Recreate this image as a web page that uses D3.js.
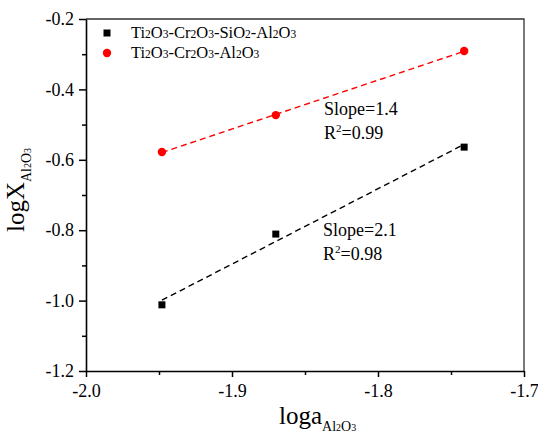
<!DOCTYPE html>
<html>
<head>
<meta charset="utf-8">
<script src="https://cdn.jsdelivr.net/npm/d3@7"></script>
<style>
  body { margin: 0; background: #fff; }
  svg { display: block; }
  svg text { font-family: "Liberation Serif", "Times New Roman", serif; }
</style>
</head>
<body>
<div id="container"></div>
<script>
// data
var seriesNames = ["Ti2O3-Cr2O3-SiO2-Al2O3", "Ti2O3-Cr2O3-Al2O3"];
var xSiO2 = [-1.948, -1.870, -1.741];
var ySiO2 = [-1.012, -0.811, -0.564];
var xAl = [-1.948, -1.870, -1.741];
var yAl = [-0.578, -0.473, -0.291];
var xTicks = [-2.0, -1.9, -1.8, -1.7];
var yTicks = [-1.2, -1.0, -0.8, -0.6, -0.4, -0.2];
var fitText = [["Slope=2.1", "0.98"], ["Slope=1.4", "0.99"]];

var w = 538, h = 435;
var margin = {top: 19, right: 14, bottom: 64, left: 86};
var iw = w - margin.left - margin.right,
    ih = h - margin.top - margin.bottom;

var svg = d3.select("div#container")
  .append("svg")
  .attr("width", w)
  .attr("height", h);

var x = d3.scaleLinear().domain([-2.0, -1.7]).range([0, iw]);
var y = d3.scaleLinear().domain([-1.2, -0.2]).range([ih, 0]);

var g = svg.append("g").attr("transform", "translate(" + margin.left + "," + margin.top + ")");

// frame (top / right)
g.append("path")
  .attr("d", "M0,0H" + iw + "V" + ih)
  .attr("fill", "none")
  .attr("stroke", "#333")
  .attr("stroke-width", 1.3);

// minor ticks
g.append("g")
  .attr("transform", "translate(0," + ih + ")")
  .call(d3.axisBottom(x).tickValues([-1.95, -1.85, -1.75]).tickSize(4).tickSizeOuter(0).tickFormat(""))
  .call(function(s) { s.select(".domain").remove(); s.selectAll("line").attr("stroke-width", 1.5); });
g.append("g")
  .call(d3.axisLeft(y).tickValues([-1.1, -0.9, -0.7, -0.5, -0.3]).tickSize(4).tickSizeOuter(0).tickFormat(""))
  .call(function(s) { s.select(".domain").remove(); s.selectAll("line").attr("stroke-width", 1.5); });

// major axes
var xAxis = g.append("g")
  .attr("transform", "translate(0," + ih + ")")
  .call(d3.axisBottom(x).tickValues(xTicks).tickSize(6).tickSizeOuter(0).tickPadding(7));
var yAxis = g.append("g")
  .call(d3.axisLeft(y).tickValues(yTicks).tickSize(7).tickSizeOuter(0).tickPadding(5));

[xAxis, yAxis].forEach(function(a) {
  a.attr("font-family", null).attr("font-size", null);
  a.select(".domain").attr("stroke-width", 1.6);
  a.selectAll("line").attr("stroke-width", 1.5);
  a.selectAll("text")
    .attr("font-size", 18)
    .attr("fill", "#000")
    .text(function(d) { return d.toFixed(1); });
});

// least squares fit through each series
function fit(xs, ys) {
  var mx = d3.mean(xs), my = d3.mean(ys), sxy = 0, sxx = 0;
  xs.forEach(function(v, i) { sxy += (v - mx) * (ys[i] - my); sxx += (v - mx) * (v - mx); });
  var b = sxy / sxx;
  return function(v) { return my + b * (v - mx); };
}

var series = [
  {xs: xSiO2, ys: ySiO2, color: "#000"},
  {xs: xAl, ys: yAl, color: "#ff0000"}
];

series.forEach(function(s) {
  var f = fit(s.xs, s.ys);
  var x0 = d3.min(s.xs), x1 = d3.max(s.xs);
  g.append("line")
    .attr("x1", x(x0)).attr("y1", y(f(x0)))
    .attr("x2", x(x1)).attr("y2", y(f(x1)))
    .attr("stroke", s.color)
    .attr("stroke-width", 1.4)
    .attr("stroke-dasharray", "6,4");
});

// markers
g.selectAll("rect.pt")
  .data(xSiO2)
  .enter().append("rect")
  .attr("class", "pt")
  .attr("x", function(d) { return x(d) - 3.5; })
  .attr("y", function(d, i) { return y(ySiO2[i]) - 3.5; })
  .attr("width", 7).attr("height", 7)
  .attr("fill", "#000");

g.selectAll("circle.pt")
  .data(xAl)
  .enter().append("circle")
  .attr("class", "pt")
  .attr("cx", function(d) { return x(d); })
  .attr("cy", function(d, i) { return y(yAl[i]); })
  .attr("r", 4.2)
  .attr("fill", "#ff0000");

// chemical formula with small baseline digits
function formula(sel, str, big, small) {
  str.split(/(\d)/).forEach(function(p) {
    if (!p) return;
    sel.append("tspan")
      .attr("font-size", /\d/.test(p) ? small : big)
      .text(p);
  });
}

// legend
var legend = svg.append("g");
legend.append("rect").attr("x", 103.5).attr("y", 29.5).attr("width", 7).attr("height", 7).attr("fill", "#000");
legend.append("circle").attr("cx", 107).attr("cy", 53).attr("r", 4.2).attr("fill", "#ff0000");
seriesNames.forEach(function(n, i) {
  var t = legend.append("text").attr("x", 131).attr("y", 38 + i * 20).attr("fill", "#000");
  formula(t, n, 16.5, 11.5);
});

// slope annotations
var annot = [[323, 236], [324, 115]];
fitText.forEach(function(ft, i) {
  svg.append("text").attr("x", annot[i][0]).attr("y", annot[i][1]).attr("font-size", 18).text(ft[0]);
  var r = svg.append("text").attr("x", annot[i][0]).attr("y", annot[i][1] + 24).attr("font-size", 18);
  r.append("tspan").text("R");
  r.append("tspan").attr("font-size", 11).attr("dy", -7).text("2");
  r.append("tspan").attr("dy", 7).text("=" + ft[1]);
});

// x axis title
var xt = svg.append("text").attr("x", 279).attr("y", 424).attr("font-size", 25);
xt.append("tspan").text("loga");
var xs = xt.append("tspan").attr("dy", 7);
formula(xs, "Al2O3", 14, 10);

// y axis title
var yt = svg.append("text")
  .attr("transform", "translate(24,232) rotate(-90)")
  .attr("font-size", 25);
yt.append("tspan").text("logX");
var ys = yt.append("tspan").attr("dy", 7);
formula(ys, "Al2O3", 14, 10);
</script>
</body>
</html>
